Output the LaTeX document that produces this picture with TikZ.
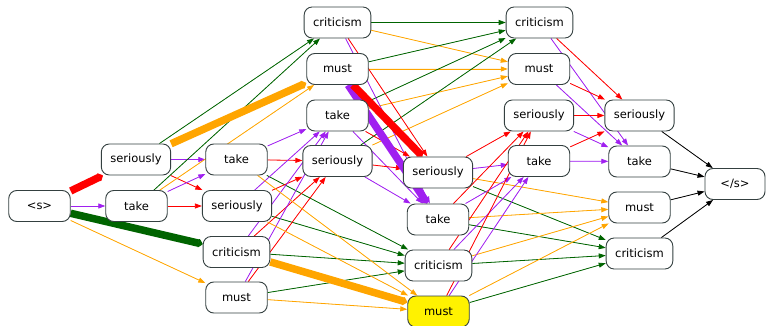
\documentclass[tikz,border=0pt]{standalone}
\usepackage{fontspec}
\setmainfont{DejaVu Sans}
\usetikzlibrary{arrows.meta}
\definecolor{cgreen}{RGB}{0,100,0}
\definecolor{corange}{RGB}{255,165,0}
\definecolor{cred}{RGB}{255,0,0}
\definecolor{cpurple}{RGB}{160,32,240}
\definecolor{cborder}{RGB}{52,64,64}
\pgfdeclarelayer{edges}
\pgfsetlayers{edges,main}
\tikzset{
  word/.style={draw=cborder, line width=0.9pt, rounded corners=8pt, fill=white,
    minimum width=61.5pt, minimum height=31pt, inner xsep=9pt, inner ysep=0pt,
    font=\fontsize{11.5}{13}\selectfont},
  link/.style={line width=0.8pt, -{Triangle[length=7pt,width=5pt]}},
  heavy/.style={line width=7.5pt, -{Triangle[length=5pt,width=10pt,round]}},
  toS/.style={link, draw=cred, fill=cred},
  toT/.style={link, draw=cpurple, fill=cpurple},
  toC/.style={link, draw=cgreen, fill=cgreen},
  toM/.style={link, draw=corange, fill=corange},
  toEnd/.style={link, draw=black, fill=black},
}
\begin{document}
\begin{tikzpicture}[x=1pt,y=-1pt]
\useasboundingbox (0,0) rectangle (766,326);

% word nodes, column by column
\node[word] (s0) at (39.5,206) {<s>};

\node[word] (s1) at (136,159.5) {seriously};
\node[word] (t1) at (136.5,206) {take};

\node[word] (t2) at (236.5,159.5) {take};
\node[word] (s2) at (237,206) {seriously};
\node[word] (c2) at (236.5,252) {criticism};
\node[word] (m2) at (236.5,297.5) {must};

\node[word] (c3) at (337.5,22.5) {criticism};
\node[word] (m3) at (337.5,69) {must};
\node[word] (t3) at (337.5,115.5) {take};
\node[word] (s3) at (337.5,161) {seriously};

\node[word] (s4) at (438,172.5) {seriously};
\node[word] (t4) at (438,219.5) {take};
\node[word] (c4) at (438.5,265.5) {criticism};
\node[word, fill=yellow] (m4) at (438.5,311.5) {must};

\node[word] (c5) at (539.5,22.5) {criticism};
\node[word] (m5) at (539,69) {must};
\node[word] (s5) at (539,115.5) {seriously};
\node[word] (t5) at (539,161) {take};

\node[word] (s6) at (639.5,115.5) {seriously};
\node[word] (t6) at (639.5,161.5) {take};
\node[word] (m6) at (639.5,207.5) {must};
\node[word] (c6) at (639.5,253.5) {criticism};

\node[word, minimum width=60pt] (end) at (735,184) {</s>};

\begin{pgfonlayer}{edges}
% from the start symbol
\draw[toT] (s0) -- (t1);
\draw[toM] (s0) -- (m2);
% first column
\draw[toT] (s1) -- (t2);
\draw[toS] (s1) -- (s2);
\draw[toC] (s1) -- (c3);
\draw[toS] (t1) -- (s2);
\draw[toT] (t1) -- (t2);
\draw[toC] (t1) -- (c3);
\draw[toM] (t1) -- (m3);
% second column
\foreach \a in {t2,s2,c2,m2} {
  \draw[toS] (\a) -- (s3);
  \draw[toT] (\a) -- (t3);
  \draw[toC] (\a) -- (c4);
}
\foreach \a in {t2,s2,m2} \draw[toM] (\a) -- (m4);
% third column
\foreach \a in {c3,m3,t3,s3} {
  \draw[toC] (\a) -- (c5);
  \draw[toM] (\a) -- (m5);
}
\foreach \a in {c3,t3,s3} {
  \draw[toS] (\a) -- (s4);
  \draw[toT] (\a) -- (t4);
}
% fourth column
\foreach \a in {s4,t4,c4,m4} {
  \draw[toS] (\a) -- (s5);
  \draw[toT] (\a) -- (t5);
  \draw[toM] (\a) -- (m6);
  \draw[toC] (\a) -- (c6);
}
% fifth column
\foreach \a in {c5,m5,s5,t5} {
  \draw[toS] (\a) -- (s6);
  \draw[toT] (\a) -- (t6);
}
% into the end symbol
\foreach \a in {s6,t6,m6,c6} \draw[toEnd] (\a) -- (end);

% heavy links
\draw[heavy, draw=cred, fill=cred] (s0) -- (s1);
\draw[heavy, draw=cgreen, fill=cgreen] (s0) -- (c2);
\draw[heavy, draw=corange, fill=corange] (s1) -- (m3);
\draw[heavy, draw=corange, fill=corange] (c2) -- (m4);
\draw[heavy, draw=cpurple, fill=cpurple] (m3) -- (t4);
\draw[heavy, draw=cred, fill=cred] (m3) -- (s4);
\end{pgfonlayer}
\end{tikzpicture}
\end{document}
